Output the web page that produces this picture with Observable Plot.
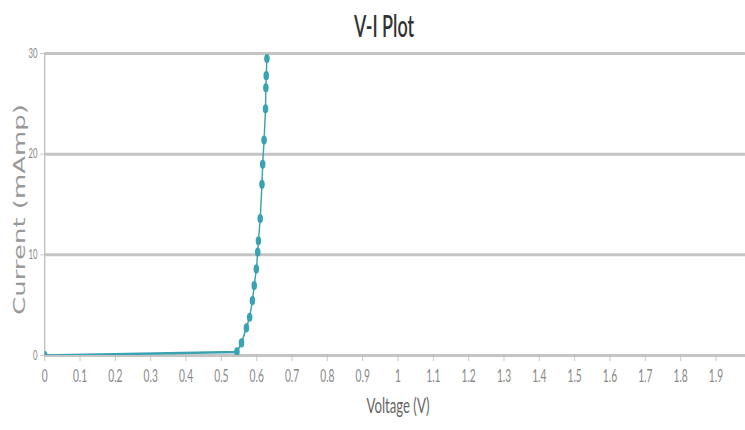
<!DOCTYPE html>
<html><head><meta charset="utf-8">
<script src="https://cdn.jsdelivr.net/npm/d3@7"></script>
<script src="https://cdn.jsdelivr.net/npm/@observablehq/plot@0.6"></script>
<style>
html,body{margin:0;padding:0;background:#fff;overflow:hidden}
#wrap{width:1242px;height:430px;transform:scaleX(0.6);transform-origin:0 0;position:relative}
#title{position:absolute;left:640px;top:9px;transform:translateX(-50%);font-family:Lato,sans-serif;font-size:30px;line-height:32px;font-weight:600;color:#333;white-space:nowrap}
#chart{position:absolute;left:0;top:45px}
</style></head><body>
<div id="wrap"><div id="title"></div><div id="chart"></div></div>
<script>
const title = "V-I Plot";
const xLabel = "Voltage (V)";
const yLabel = "Current (mAmp)";
const voltage = [0, 0.544, 0.557, 0.571, 0.580, 0.588, 0.593, 0.599, 0.603, 0.605, 0.610, 0.615, 0.617, 0.621, 0.625, 0.626, 0.627, 0.629];
const current = [0, 0.35, 1.25, 2.75, 3.8, 5.46, 6.95, 8.6, 10.26, 11.4, 13.6, 17.0, 19.0, 21.4, 24.5, 26.6, 27.8, 29.5];
const xTicks = [0, 0.1, 0.2, 0.3, 0.4, 0.5, 0.6, 0.7, 0.8, 0.9, 1, 1.1, 1.2, 1.3, 1.4, 1.5, 1.6, 1.7, 1.8, 1.9];
const yTicks = [0, 10, 20, 30];

document.getElementById("title").textContent = title;
const data = voltage.map((v, i) => ({v, c: current[i]}));
const S = 0.6;
const W = 745 / S;
const teal = "#3aa3b3";
const chart = Plot.plot({
  width: W, height: 385,
  marginLeft: 74, marginRight: 0, marginTop: 8, marginBottom: 75,
  style: {fontFamily: "Lato", background: "white"},
  x: {domain: [0, 1.983]},
  y: {domain: [0, 30]},
  marks: [
    Plot.gridY(yTicks, {stroke: "#c4c4c4", strokeOpacity: 1, strokeWidth: 3}),
    Plot.ruleX([0], {stroke: "#c4c4c4", strokeWidth: 2.5}),
    Plot.axisX(xTicks, {tickSize: 6, tickPadding: 8, fontSize: 17, stroke: "#bbb", fill: "#888", label: null,
      tickFormat: d => d3.format("~g")(Math.round(d * 10) / 10)}),
    Plot.axisY(yTicks, {tickSize: 7, tickPadding: 5, fontSize: 13, stroke: "#bbb", fill: "#888", label: null}),
    Plot.line(data, {x: "v", y: "c", stroke: teal, strokeWidth: 2.4, clip: true}),
    Plot.dot(data, {x: "v", y: "c", r: 4.6, fill: teal, clip: true}),
    Plot.text([xLabel], {frameAnchor: "bottom", dy: 58, dx: 5, fontSize: 22, fill: "#666"}),
    Plot.text([yLabel], {frameAnchor: "left", textAnchor: "middle", rotate: -90, dx: -41, dy: 5, fontSize: 26, fontFamily: "DejaVu Sans", fill: "#999"})
  ]
});
document.getElementById("chart").appendChild(chart);
</script>
</body></html>
